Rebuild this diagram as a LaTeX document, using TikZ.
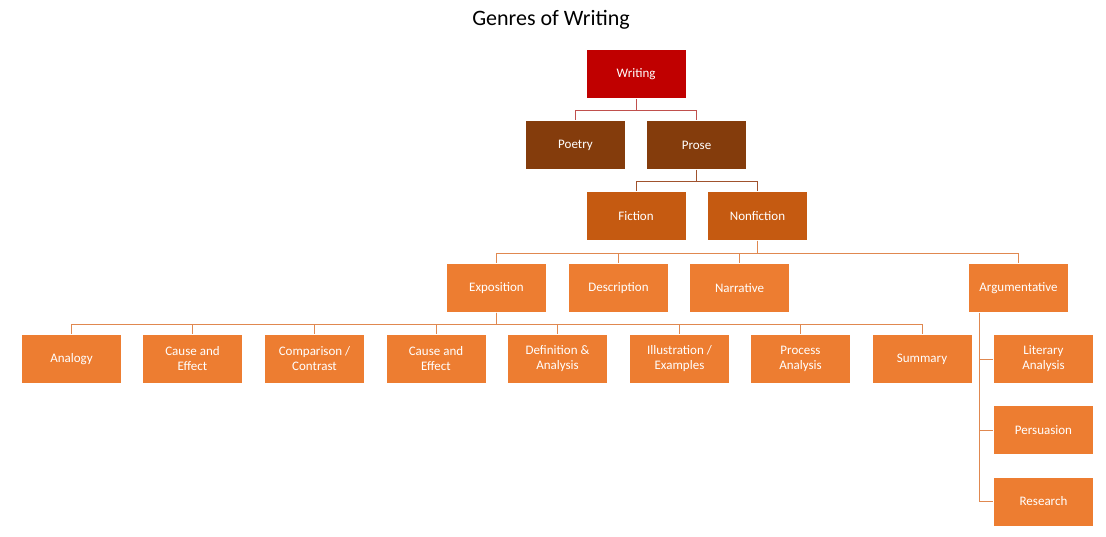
\documentclass[tikz,border=0pt]{standalone}
\usepackage{fontspec}
\setmainfont{Carlito}
\definecolor{c0}{HTML}{C00000}
\definecolor{c1}{HTML}{843C0C}
\definecolor{c2}{HTML}{C55A11}
\definecolor{c3}{HTML}{ED7D31}
\definecolor{l1}{HTML}{C0504D}
\definecolor{l2}{HTML}{A0522D}
\definecolor{l3}{HTML}{E08850}
\tikzset{
 bx/.style={draw=white,line width=0.8pt,minimum width=100pt,minimum height=49pt,text=white,align=center,font=\fontsize{13}{15}\selectfont,inner sep=1pt},
}
\begin{document}
\begin{tikzpicture}[x=1pt,y=-1pt]
\useasboundingbox (0,0) rectangle (1106,536);
\node[font=\fontsize{22}{26}\selectfont] (title) at (551,20) {Genres of Writing};
\node[bx,fill=c0] (w) at (636,74) {Writing};
\node[bx,fill=c1] (po) at (575.5,145) {Poetry};
\node[bx,fill=c1] (pr) at (696.5,145) {Prose};
\node[bx,fill=c2] (fi) at (636,216) {Fiction};
\node[bx,fill=c2] (nf) at (757.5,216) {Nonfiction};
\node[bx,fill=c3] (ex) at (496.5,288) {Exposition};
\node[bx,fill=c3] (de) at (618.5,288) {Description};
\node[bx,fill=c3] (na) at (739.5,288) {Narrative};
\node[bx,fill=c3] (ar) at (1018.5,288) {Argumentative};
\node[bx,fill=c3] (a1) at (71.5,359) {Analogy};
\node[bx,fill=c3] (a2) at (192.5,359) {Cause and\\Effect};
\node[bx,fill=c3] (a3) at (314.5,359) {Comparison /\\Contrast};
\node[bx,fill=c3] (a4) at (436,359) {Cause and\\Effect};
\node[bx,fill=c3] (a5) at (557.5,359) {Definition \&\\Analysis};
\node[bx,fill=c3] (a6) at (679.5,359) {Illustration /\\Examples};
\node[bx,fill=c3] (a7) at (800.5,359) {Process\\Analysis};
\node[bx,fill=c3] (a8) at (922,359) {Summary};
\node[bx,fill=c3] (b1) at (1043.5,359) {Literary\\Analysis};
\node[bx,fill=c3] (b2) at (1043.5,430) {Persuasion};
\node[bx,fill=c3] (b3) at (1043.5,501.5) {Research};
\begin{scope}[on background layer/.style={}]
\foreach \c in {po,pr} \draw[l1,line width=0.8pt] (w.south) -- ++(0,11) -| (\c.north);
\foreach \c in {fi,nf} \draw[l2,line width=0.8pt] (pr.south) -- ++(0,11) -| (\c.north);
\foreach \c in {ex,de,na,ar} \draw[l3,line width=0.8pt] (nf.south) -- ++(0,12) -| (\c.north);
\foreach \c in {a1,a2,a3,a4,a5,a6,a7,a8} \draw[l3,line width=0.8pt] (ex.south) -- ++(0,11) -| (\c.north);
\foreach \c in {b1,b2,b3} \draw[l3,line width=0.8pt] (ar.south -| 979,0) |- (\c.west);
\end{scope}
\end{tikzpicture}
\end{document}
